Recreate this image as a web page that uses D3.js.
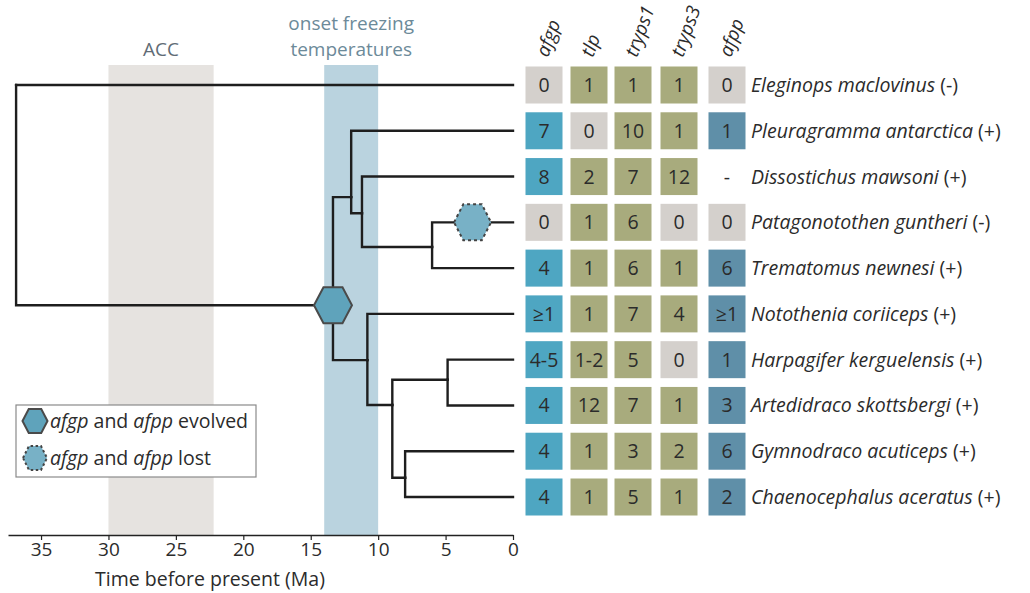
<!DOCTYPE html>
<html>
<head>
<meta charset="utf-8">
<script src="https://cdn.jsdelivr.net/npm/d3@7"></script>
<style>
  body { margin: 0; background: #fff; }
  svg { font-family: "Open Sans", "Noto Sans", sans-serif; }
</style>
</head>
<body>
<div id="chart"></div>
<script>
// DATA ---------------------------------------------------------------
const species = ["Eleginops maclovinus", "Pleuragramma antarctica", "Dissostichus mawsoni",
  "Patagonotothen guntheri", "Trematomus newnesi", "Notothenia  coriiceps",
  "Harpagifer kerguelensis", "Artedidraco skottsbergi", "Gymnodraco acuticeps",
  "Chaenocephalus aceratus"];
const status = ["(-)", "(+)", "(+)", "(-)", "(+)", "(+)", "(+)", "(+)", "(+)", "(+)"];
const genes = ["afgp", "tlp", "tryps1", "tryps3", "afpp"];
const afgp   = ["0", "7", "8", "0", "4", "≥1", "4-5", "4", "4", "4"];
const tlp    = ["1", "0", "2", "1", "1", "1", "1-2", "12", "1", "1"];
const tryps1 = ["1", "10", "7", "6", "6", "7", "5", "7", "3", "5"];
const tryps3 = ["1", "1", "12", "0", "1", "4", "0", "1", "2", "1"];
const afpp   = ["0", "1", "-", "0", "6", "≥1", "1", "3", "6", "2"];
const counts = [afgp, tlp, tryps1, tryps3, afpp];

// tree: ages in Ma, rows (leaf index, or position between rows for internal nodes)
const nodeIds   = ["A", "B", "C", "D", "E", "H", "I", "J", "K"];
const nodeAges  = [36.85, 13.35, 12.0, 11.2, 6.0, 10.8, 8.95, 4.85, 8.0];
const nodeRows  = [0, 4.81, 2.45, 2.8, 3.54, 6.01, 6.99, 6.44, 8.58];
const leafParents = ["A", "C", "D", "E", "E", "H", "J", "J", "K", "K"];
const nodeParents = [null, "A", "B", "C", "D", "B", "H", "I", "I"];

const periods = [{label: ["ACC"], from: 30, to: 22.2},
                 {label: ["onset freezing", "temperatures"], from: 14, to: 10}];
const evolvedAt = "B";
const lostOn = {leaf: 3, age: 3.0};
const xTicks = [35, 30, 25, 20, 15, 10, 5, 0];

// CHART --------------------------------------------------------------
const width = 1030, height = 593;
const svg = d3.select('#chart').append('svg')
  .attr('width', width).attr('height', height);

const xScale = d3.scaleLinear().domain([37.45, 0]).range([8, 513]);
const yScale = d3.scaleLinear().domain([0, 9]).range([85, 497]);
const axisY = 535, bandTop = 65;
const ink = '#2b2b2b';

// bands
const bandFill = ["#e6e3e0", "#bad3df"];
const bandText = ["#5f6c76", "#6c8a99"];
periods.forEach((p, i) => {
  svg.append('rect')
    .attr('x', xScale(p.from)).attr('y', bandTop)
    .attr('width', xScale(p.to) - xScale(p.from))
    .attr('height', axisY - bandTop)
    .attr('fill', bandFill[i]);
  const cx = (xScale(p.from) + xScale(p.to)) / 2;
  p.label.forEach((t, j) => {
    svg.append('text')
      .attr('x', cx).attr('y', 56 - (p.label.length - 1 - j) * 26)
      .attr('text-anchor', 'middle')
      .attr('font-size', 19).attr('fill', bandText[i])
      .text(t);
  });
});

// axis
const xAxis = d3.axisBottom(xScale).tickValues(xTicks).tickSize(5).tickSizeOuter(0).tickPadding(3);
const gx = svg.append('g')
  .attr('transform', 'translate(0,' + axisY + ')')
  .call(xAxis);
gx.select('.domain').attr('stroke', '#222').attr('stroke-width', 1.5);
gx.selectAll('.tick line').attr('stroke', '#222').attr('stroke-width', 1.2);
gx.selectAll('.tick text').attr('font-size', 19).attr('fill', ink)
  .attr('font-family', '"Open Sans", sans-serif');
svg.append('text')
  .attr('x', 210).attr('y', 586)
  .attr('text-anchor', 'middle').attr('font-size', 19.5).attr('fill', ink)
  .text('Time before present (Ma)');

// tree
const nodes = {};
nodeIds.forEach((id, i) => nodes[id] = {age: nodeAges[i], row: nodeRows[i]});
const links = [];
nodeIds.forEach((id, i) => {
  if (nodeParents[i]) links.push({p: nodes[nodeParents[i]], c: nodes[id]});
});
species.forEach((s, i) => links.push({p: nodes[leafParents[i]], c: {age: 0, row: i}}));

svg.append('g').selectAll('path')
  .data(links)
  .join('path')
  .attr('d', d => 'M' + xScale(d.p.age) + ',' + yScale(d.p.row) +
                  'V' + yScale(d.c.row) + 'H' + xScale(d.c.age))
  .attr('fill', 'none')
  .attr('stroke', '#1e1e1e')
  .attr('stroke-width', 2.4)
  .attr('stroke-linecap', 'square');

function hexPath(cx, cy, rx, ry) {
  const pts = [[-rx, 0], [-rx / 2, -ry], [rx / 2, -ry], [rx, 0], [rx / 2, ry], [-rx / 2, ry]];
  return 'M' + pts.map(p => (cx + p[0]) + ',' + (cy + p[1])).join('L') + 'Z';
}

svg.append('path')
  .attr('d', hexPath(xScale(nodes[evolvedAt].age), yScale(nodes[evolvedAt].row), 19, 18))
  .attr('fill', '#5fa3bb').attr('stroke', '#4a4a4a').attr('stroke-width', 2);
svg.append('path')
  .attr('d', hexPath(xScale(lostOn.age), yScale(lostOn.leaf), 18.5, 18))
  .attr('fill', '#78b1c6').attr('stroke', '#444').attr('stroke-width', 2)
  .attr('stroke-dasharray', '3,3');

// legend
const legend = svg.append('g');
legend.append('rect')
  .attr('x', 16).attr('y', 405).attr('width', 240).attr('height', 72)
  .attr('fill', '#fff').attr('stroke', '#8a8a8a').attr('stroke-width', 1.2);
legend.append('path').attr('d', hexPath(35, 421, 12.5, 12))
  .attr('fill', '#5fa3bb').attr('stroke', '#4a4a4a').attr('stroke-width', 2);
legend.append('path').attr('d', hexPath(35, 458, 12, 12))
  .attr('fill', '#78b1c6').attr('stroke', '#444').attr('stroke-width', 2)
  .attr('stroke-dasharray', '2.5,2.5');
[["afgp", " and ", "afpp", " evolved"], ["afgp", " and ", "afpp", " lost"]].forEach((parts, i) => {
  const t = legend.append('text').attr('x', 50).attr('y', 428 + i * 37)
    .attr('font-size', 19.5).attr('fill', ink);
  parts.forEach((s, j) => t.append('tspan').attr('font-style', j % 2 === 0 ? 'italic' : 'normal').text(s));
});

// gene count cells
const colX = [544, 589, 633, 679, 727];
const cellSize = 37;
const posColor = ["#4ea6c2", "#a8ab7d", "#a8ab7d", "#a8ab7d", "#5f8fa8"];
const zeroColor = "#d4d0cc";

genes.forEach((g, c) => {
  svg.append('text')
    .attr('transform', 'translate(' + (colX[c] + 4) + ',58) rotate(-70)')
    .attr('font-size', 19).attr('font-style', 'italic').attr('fill', ink)
    .text(g);
  const col = svg.append('g');
  counts[c].forEach((v, r) => {
    if (v !== "-") {
      col.append('rect')
        .attr('x', colX[c] - cellSize / 2).attr('y', yScale(r) - cellSize / 2)
        .attr('width', cellSize).attr('height', cellSize)
        .attr('fill', v === "0" ? zeroColor : posColor[c]);
    }
    col.append('text')
      .attr('x', colX[c]).attr('y', yScale(r))
      .attr('dy', '0.36em').attr('text-anchor', 'middle')
      .attr('font-size', 19.5).attr('fill', ink)
      .text(v);
  });
});

// species labels
species.forEach((s, i) => {
  const t = svg.append('text')
    .attr('x', 751).attr('y', yScale(i)).attr('dy', '0.36em')
    .attr('font-size', 19.5).attr('fill', ink);
  t.append('tspan').attr('font-style', 'italic').text(s);
  t.append('tspan').text(' ' + status[i]);
});
</script>
</body>
</html>
